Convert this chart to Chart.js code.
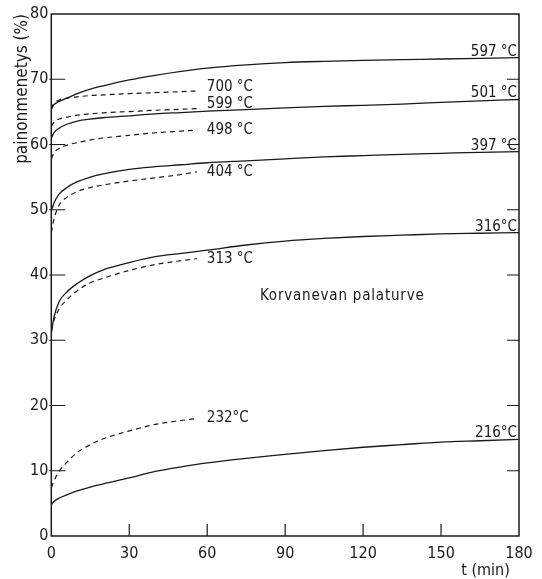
<!DOCTYPE html>
<html>
<head>
<meta charset="utf-8">
<script src="https://cdn.jsdelivr.net/npm/chart.js@4/dist/chart.umd.min.js"></script>
<style>
  html, body { margin:0; padding:0; background:#fff; }
  #wrap { width:542px; height:579px; }
</style>
</head>
<body>
<div id="wrap"><canvas id="grafico" width="542" height="579"></canvas></div>
<script>
// aika-akselit (min)
const tPitka = [0, 1, 3, 6, 10, 15, 20, 30, 40, 50, 60, 75, 90, 105, 120, 135, 150, 165, 180];
const tLyhyt = [0, 1, 3, 6, 10, 15, 20, 30, 40, 50, 56];

// yhtenäiset käyrät (180 min)
const k597 = [65.4, 66.1, 66.6, 67.1, 67.8, 68.5, 69.0, 69.9, 70.6, 71.2, 71.7, 72.2, 72.55, 72.75, 72.9, 73.0, 73.1, 73.2, 73.3];
const k501 = [61.0, 61.8, 62.5, 63.1, 63.6, 63.9, 64.1, 64.4, 64.7, 64.9, 65.1, 65.35, 65.6, 65.85, 66.0, 66.2, 66.45, 66.7, 66.9];
const k397 = [49.8, 51.0, 52.4, 53.4, 54.3, 55.0, 55.5, 56.2, 56.6, 56.9, 57.2, 57.5, 57.8, 58.1, 58.3, 58.5, 58.65, 58.8, 58.9];
const k316 = [31.0, 33.5, 35.9, 37.4, 38.7, 39.9, 40.8, 41.9, 42.8, 43.3, 43.8, 44.6, 45.2, 45.6, 45.9, 46.1, 46.3, 46.4, 46.5];
const k216 = [4.8, 5.3, 5.8, 6.3, 6.9, 7.5, 8.0, 8.9, 9.9, 10.6, 11.2, 11.9, 12.5, 13.1, 13.6, 14.0, 14.4, 14.6, 14.8];

// katkoviivakäyrät (n. 56 min)
const k700 = [65.5, 66.3, 66.8, 67.1, 67.3, 67.5, 67.6, 67.8, 67.95, 68.1, 68.2];
const k599 = [62.8, 63.4, 63.9, 64.2, 64.5, 64.7, 64.85, 65.05, 65.25, 65.4, 65.5];
const k498 = [57.8, 58.7, 59.4, 59.9, 60.3, 60.7, 61.0, 61.4, 61.8, 62.05, 62.2];
const k404 = [46.5, 48.5, 50.7, 51.9, 52.8, 53.4, 53.8, 54.4, 54.9, 55.4, 55.8];
const k313 = [31.5, 33.0, 34.8, 36.2, 37.6, 38.8, 39.5, 40.7, 41.6, 42.2, 42.5];
const k232 = [7.4, 8.4, 9.9, 11.3, 12.8, 14.0, 14.9, 16.1, 17.1, 17.7, 18.0];

const xTicks = [0, 30, 60, 90, 120, 150, 180];
const yTicks = [0, 10, 20, 30, 40, 50, 60, 70, 80];

const FONTTI = '"DejaVu Sans Condensed", "Liberation Sans", sans-serif';
const MUSTA = "#1a1a1a";

function pisteet(ajat, arvot){
    return ajat.map((t, i) => ({x: t, y: arvot[i]}));
}

function sarja(nimi, ajat, arvot, katko, nosto){
    return {
        label: nimi,
        data: pisteet(ajat, arvot),
        borderColor: MUSTA,
        borderWidth: katko ? 1.2 : 1.3,
        borderDash: katko ? [5, 4] : [],
        pointRadius: 0,
        fill: false,
        cubicInterpolationMode: "monotone",
        katko: katko,
        nosto: nosto || 0
    };
}

const datasets = [
    sarja("597 °C", tPitka, k597, false),
    sarja("501 °C", tPitka, k501, false),
    sarja("397 °C", tPitka, k397, false),
    sarja("316°C", tPitka, k316, false),
    sarja("216°C", tPitka, k216, false),
    sarja("700 °C", tLyhyt, k700, true, 4),
    sarja("599 °C", tLyhyt, k599, true, 5),
    sarja("498 °C", tLyhyt, k498, true),
    sarja("404 °C", tLyhyt, k404, true),
    sarja("313 °C", tLyhyt, k313, true),
    sarja("232°C", tLyhyt, k232, true)
];

const kehys = {
    id: "kehys",
    afterDraw(chart){
        const ctx = chart.ctx;
        const a = chart.chartArea;
        const x = chart.scales.x;
        const y = chart.scales.y;
        ctx.save();
        ctx.strokeStyle = MUSTA;
        ctx.lineWidth = 1.5;
        ctx.strokeRect(a.left, a.top, a.right - a.left, a.bottom - a.top);

        // sisäänpäin osoittavat merkit
        ctx.lineWidth = 1.2;
        ctx.beginPath();
        yTicks.slice(1, -1).forEach(v=>{
            const py = y.getPixelForValue(v);
            ctx.moveTo(a.left - 2, py); ctx.lineTo(a.left + 14, py);
            ctx.moveTo(a.right, py); ctx.lineTo(a.right - 12, py);
        });
        xTicks.slice(1, -1).forEach(v=>{
            const px = x.getPixelForValue(v);
            ctx.moveTo(px, a.bottom); ctx.lineTo(px, a.bottom - 12);
        });
        ctx.stroke();

        // käyrien nimet
        ctx.fillStyle = MUSTA;
        ctx.font = "15px " + FONTTI;
        chart.data.datasets.forEach(ds=>{
            const viim = ds.data[ds.data.length - 1];
            const px = x.getPixelForValue(viim.x);
            const py = y.getPixelForValue(viim.y);
            if(ds.katko){
                ctx.textAlign = "left";
                ctx.textBaseline = "middle";
                ctx.fillText(ds.label, px + 10, py - ds.nosto);
            } else {
                ctx.textAlign = "right";
                ctx.textBaseline = "alphabetic";
                ctx.fillText(ds.label, a.right - 2, py - 2);
            }
        });

        ctx.textAlign = "left";
        ctx.textBaseline = "middle";
        ctx.font = "15px " + FONTTI;
        if("letterSpacing" in ctx) ctx.letterSpacing = "0.8px";
        ctx.fillText("Korvanevan palaturve", x.getPixelForValue(80.3), y.getPixelForValue(36.8));
        ctx.restore();
    }
};

new Chart(document.getElementById("grafico"), {
    type: "line",
    data: { datasets: datasets },
    options: {
        responsive: false,
        animation: false,
        layout: { padding: { top: 14, right: 23, left: 0, bottom: 0 } },
        plugins: { legend: { display: false }, tooltip: { enabled: false } },
        scales: {
            x: {
                type: "linear",
                min: 0, max: 180,
                afterBuildTicks: s => { s.ticks = xTicks.map(v => ({value: v})); },
                afterFit: s => { s.height = 43; },
                grid: { display: false, drawTicks: false },
                border: { display: false },
                ticks: { color: MUSTA, padding: 8, maxRotation: 0, font: { family: FONTTI, size: 16 } },
                title: { display: true, text: "t (min)  ", align: "end", color: MUSTA,
                         padding: { top: 0, bottom: 0 }, font: { family: FONTTI, size: 16, lineHeight: 1 } }
            },
            y: {
                min: 0, max: 80,
                afterBuildTicks: s => { s.ticks = yTicks.map(v => ({value: v})); },
                afterFit: s => { s.width = 51.3; },
                grid: { display: false, drawTicks: false },
                border: { display: false },
                ticks: { color: MUSTA, padding: 3, font: { family: FONTTI, size: 16 } },
                title: { display: true, text: "painonmenetys (%)", align: "end", color: MUSTA,
                         padding: { top: 12, bottom: 0 }, font: { family: FONTTI, size: 17, lineHeight: 1.2 } }
            }
        }
    },
    plugins: [kehys]
});
</script>
</body>
</html>
